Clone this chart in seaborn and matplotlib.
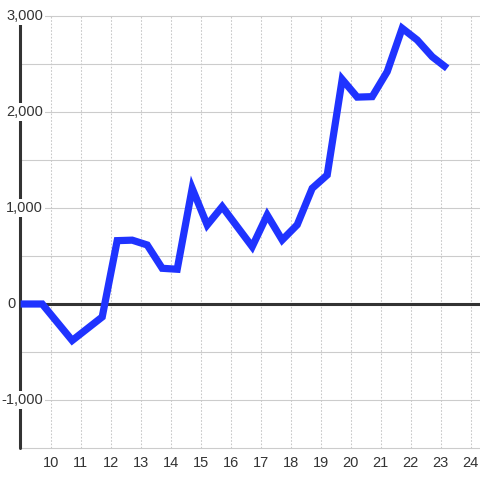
import matplotlib
matplotlib.use("Agg")
import matplotlib.pyplot as plt
import seaborn as sns

# hour of day vs cumulative value
hours = [9.0, 9.72, 10.72, 11.72, 12.22, 12.72, 13.22, 13.72, 14.22, 14.72,
         15.22, 15.72, 16.72, 17.22, 17.72, 18.22, 18.72, 19.22, 19.72, 20.22,
         20.72, 21.22, 21.72, 22.22, 22.72, 23.22]
values = [0, 0, -380, -135, 660, 665, 615, 372, 362, 1205,
          823, 1014, 597, 927, 667, 825, 1205, 1344, 2340, 2155,
          2160, 2420, 2872, 2750, 2576, 2455]
x_ticks = list(range(10, 25))
y_ticks = [-1000, 0, 1000, 2000, 3000]
y_grid = [-1500, -1000, -500, 0, 500, 1000, 1500, 2000, 2500, 3000]

sns.set_style("white")
plt.rcParams["font.family"] = ["Liberation Sans", "DejaVu Sans"]

fig = plt.figure(figsize=(4.8, 4.8), dpi=100)
ax = fig.add_axes([20 / 480, 32 / 480, 460 / 480, 432 / 480])

xmin, xmax = 8.98, 8.98 + 460 / 30
ax.set_xlim(xmin, xmax)
ax.set_ylim(-1500, 3000)

# grid
for v in y_grid:
    ax.axhline(v, color="#cccccc", lw=0.8, zorder=1, clip_on=False)
for v in x_ticks:
    ax.axvline(v, color="#c8c8c8", lw=0.75, ls=(0, (1.6, 1.6)), zorder=1)

# axis lines
ax.axhline(0, color="#333333", lw=2.2, zorder=2)
ax.axvline(xmin, color="#333333", lw=2.2, zorder=2, clip_on=False)

sns.lineplot(x=hours, y=values, ax=ax, color="#1f33ff", lw=5.2,
             estimator=None, sort=False, zorder=3)
ax.lines[-1].set_solid_joinstyle("miter")
ax.lines[-1].set_solid_capstyle("butt")

for s in ax.spines.values():
    s.set_visible(False)

ax.set_xticks(x_ticks)
ax.set_xticklabels([str(t) for t in x_ticks])
ax.set_yticks([])
ax.tick_params(axis="x", length=0, pad=6, labelsize=10.5, labelcolor="#333333")

trans = ax.get_yaxis_transform()
for v in y_ticks:
    xpos = -4.3 / 460 if v == 0 else 23 / 460
    ax.text(xpos, v, f"{v:,}", transform=trans, ha="right", va="center",
            fontsize=10.5, color="#333333", zorder=5,
            bbox=dict(boxstyle="square,pad=0.15", fc="white", ec="none"))

fig.savefig("out.png", dpi=100)
